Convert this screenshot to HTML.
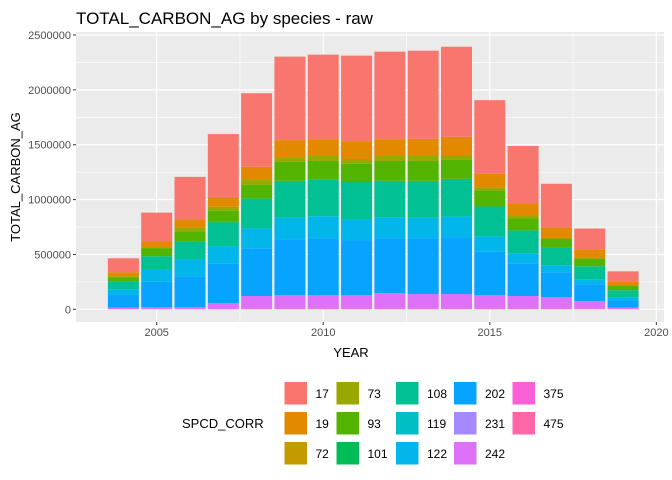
<!DOCTYPE html>
<html><head><meta charset="utf-8">
<style>
body{margin:0;background:#fff;}
svg{display:block;font-family:"Liberation Sans",Arial,sans-serif;}
</style></head>
<body>
<svg id="chart" width="672" height="480" viewBox="0 0 672 480">
<text x="76" y="24" font-size="17" fill="#000">TOTAL_CARBON_AG by species - raw</text>
<rect x="76" y="32" width="588" height="290" fill="#EBEBEB"/>
<g id="grid"></g>
<g id="bars"></g>
<g id="axes"></g>
<text x="351" y="357" font-size="13" text-anchor="middle" fill="#000">YEAR</text>
<text transform="translate(20,177) rotate(-90)" font-size="13" text-anchor="middle" fill="#000">TOTAL_CARBON_AG</text>
<g id="legend">
<text x="182" y="428" font-size="13" fill="#000">SPCD_CORR</text>
</g>
</svg>
<script>
const years=[2004,2005,2006,2007,2008,2009,2010,2011,2012,2013,2014,2015,2016,2017,2018,2019];
const species=["17","19","72","73","93","101","108","119","122","202","231","242","375","475"];
const colors=["#F8766D","#E38900","#C49A00","#99A800","#53B400","#00BC56","#00C094","#00BFC4","#00B6EB","#06A4FF","#A58AFF","#DF70F8","#FB61D7","#FF66A8"];
const s17=[127000,263000,389000,571000,670000,761000,770000,779000,797000,803000,821000,670000,525000,399000,190000,91000];
const s19=[36000,60000,72000,91000,121000,163000,154000,163000,154000,157000,166000,124000,109000,100000,82000,36000];
const s72=[0,0,0,0,0,0,0,0,0,0,0,0,0,0,0,0];
const s73=[12000,0,36000,36000,42000,36000,45000,45000,45000,45000,45000,30000,27000,0,0,0];
const s93=[33000,75000,91000,100000,127000,172000,172000,160000,181000,181000,172000,145000,109000,78000,72000,45000];
const s101=[0,0,0,9000,0,0,0,9000,0,0,0,0,0,0,0,0];
const s108=[73000,124000,169000,217000,272000,338000,332000,338000,332000,338000,344000,272000,208000,166000,118000,63000];
const s119=[0,0,0,0,0,0,0,0,0,0,0,0,0,0,0,0];
const s122=[54000,109000,148000,154000,181000,196000,202000,187000,193000,187000,190000,136000,91000,63000,45000,27000];
const s202=[115000,229000,281000,362000,435000,507000,516000,501000,498000,507000,516000,399000,299000,226000,154000,69000];
const s231=[0,0,0,0,0,0,0,0,0,0,0,0,0,0,0,0];
const s242=[12000,18000,18000,54000,112000,121000,121000,121000,139000,130000,130000,121000,112000,103000,70000,12000];
const s375=[0,0,0,0,0,0,0,0,0,0,0,0,0,0,0,0];
const s475=[3000,3000,3000,3000,9000,9000,9000,9000,9000,9000,9000,9000,9000,9000,5000,3000];
const series=[s17,s19,s72,s73,s93,s101,s108,s119,s122,s202,s231,s242,s375,s475];
const yTicks=[0,500000,1000000,1500000,2000000,2500000];
const xTicks=[2005,2010,2015,2020];

const NS="http://www.w3.org/2000/svg";
const X0=76,X1=664,Y0=32,Y1=322;
const xs=y=>156.7+(y-2005)*33.31;
const ys=v=>309.3-v*(274.3/2500000);
function mk(tag,attrs,parent){const e=document.createElementNS(NS,tag);for(const k in attrs)e.setAttribute(k,attrs[k]);parent.appendChild(e);return e;}
const grid=document.getElementById('grid'),bars=document.getElementById('bars'),axes=document.getElementById('axes'),legend=document.getElementById('legend');
for(let i=0;i<yTicks.length-1;i++){const v=(yTicks[i]+yTicks[i+1])/2;const l=mk('line',{x1:X0,x2:X1,y1:ys(v),y2:ys(v),stroke:'#fff','stroke-width':0.6},grid);}
{const v=-250000;const l=mk('line',{x1:X0,x2:X1,y1:ys(v),y2:ys(v),stroke:'#fff','stroke-width':0.6},grid);}
for(let i=0;i<xTicks.length-1;i++){const v=(xTicks[i]+xTicks[i+1])/2;const l=mk('line',{x1:xs(v),x2:xs(v),y1:Y0,y2:Y1,stroke:'#fff','stroke-width':0.6},grid);}
{const v=2002.5;if(xs(v)>X0){mk('line',{x1:xs(v),x2:xs(v),y1:Y0,y2:Y1,stroke:'#fff','stroke-width':0.6},grid);}}
yTicks.forEach(v=>{const l=mk('line',{x1:X0,x2:X1,y1:ys(v),y2:ys(v),stroke:'#fff','stroke-width':1.2},grid);
 const t=mk('line',{x1:X0-3,x2:X0,y1:ys(v),y2:ys(v),stroke:'#333','stroke-width':1},axes);
 const tx=mk('text',{x:X0-5,y:ys(v)+4,'font-size':11,'text-anchor':'end',fill:'#4D4D4D'},axes);tx.textContent=v;});
xTicks.forEach(v=>{const l=mk('line',{x1:xs(v),x2:xs(v),y1:Y0,y2:Y1,stroke:'#fff','stroke-width':1.2},grid);
 const t=mk('line',{x1:xs(v),x2:xs(v),y1:Y1,y2:Y1+3,stroke:'#333','stroke-width':1},axes);
 const tx=mk('text',{x:xs(v),y:Y1+14,'font-size':11,'text-anchor':'middle',fill:'#4D4D4D'},axes);tx.textContent=v;});
const bw=31;
years.forEach((yr,i)=>{let cum=0;
 for(let s=series.length-1;s>=0;s--){const v=series[s][i];if(!v)continue;const y0=ys(cum),y1=ys(cum+v);cum+=v;
  const r=mk('rect',{x:xs(yr)-bw/2,y:y1,width:bw,height:y0-y1,fill:colors[s]},bars);
  
  }});
const colX=[284.5,336.5,396,454,512.5],rowY=[382,412,442];
species.forEach((sp,i)=>{const c=Math.floor(i/3),r=i%3;
 const g=mk('g',{},legend);
 
 
 mk('rect',{x:colX[c],y:rowY[r],width:22.5,height:22.5,fill:colors[i]},g);
 const t=mk('text',{x:colX[c]+31,y:rowY[r]+16,'font-size':12,fill:'#000'},g);t.textContent=sp;});
</script>
</body></html>
